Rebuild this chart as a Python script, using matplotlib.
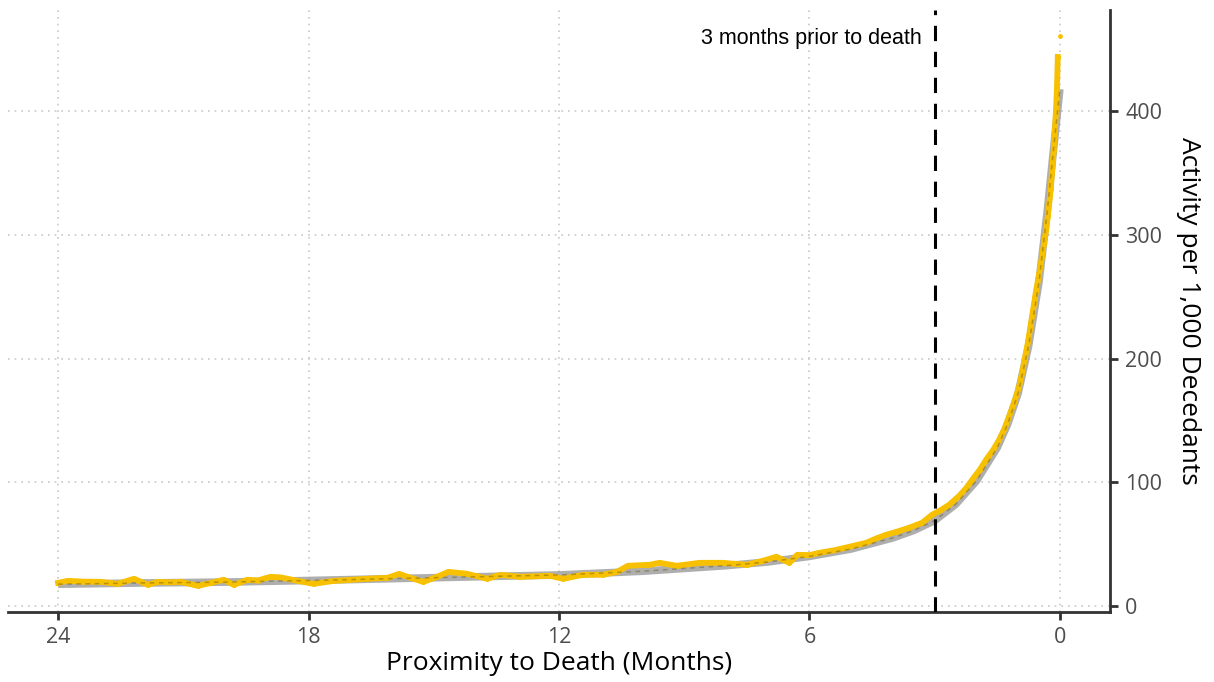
import matplotlib

matplotlib.use("Agg")
import matplotlib.pyplot as plt

# ── Data (months before death, activity per 1,000) ──
months = [
    24.0, 23.77, 23.4, 22.97, 22.57, 22.18, 21.85, 21.61, 21.3, 21.06,
    20.65, 20.34, 20.03, 19.79, 19.46, 19.22, 18.91, 18.67, 18.26, 17.88,
    17.4, 17.0, 16.6, 16.1, 15.83, 15.56, 15.25, 14.92, 14.65, 14.2,
    13.72, 13.41, 12.93, 12.22, 11.9, 11.43, 10.95, 10.61, 10.35, 9.83,
    9.59, 9.18, 8.63, 8.08, 7.5, 7.12, 6.79, 6.48, 6.29, 6.0,
    5.76, 5.4, 5.04, 4.64, 4.4, 4.16, 3.9, 3.61, 3.3, 3.06,
    2.85, 2.65, 2.41, 2.25, 2.1, 1.92, 1.77, 1.6, 1.46, 1.33,
    1.22, 1.1, 0.98, 0.9, 0.84, 0.76, 0.69, 0.62, 0.57, 0.5,
    0.43, 0.38, 0.33, 0.29, 0.25, 0.22, 0.19, 0.15, 0.12, 0.09,
    0.07, 0.05,
]
activity = [
    18.6, 20.2, 19.6, 19.4, 17.8, 21.9, 17.0, 19.4, 19.0, 19.4,
    16.2, 18.6, 21.1, 17.0, 21.1, 20.5, 23.5, 23.0, 20.2, 17.8,
    20.2, 21.0, 21.9, 22.7, 25.9, 22.7, 19.4, 23.5, 27.5, 25.9,
    21.9, 25.1, 23.5, 24.3, 21.9, 25.1, 25.1, 27.5, 32.4, 33.2,
    34.8, 32.4, 34.8, 34.8, 33.2, 36.4, 39.7, 34.8, 41.3, 41.0,
    42.9, 45.0, 47.8, 51.0, 54.5, 57.5, 60.0, 63.2, 67.2, 73.7,
    77.5, 81.8, 89.0, 95.0, 102.0, 110.0, 118.0, 126.0, 134.0, 143.0,
    153.0, 164.0, 177.0, 189.0, 200.0, 214.0, 229.0, 244.0, 255.0, 268.0,
    282.0, 293.0, 304.0, 315.0, 327.0, 337.0, 350.0, 368.0, 385.0, 403.0,
    418.0, 444.0,
]
last_month = [0.0]
last_activity = [461.0]

# smoothed trend (grey band)
smooth_months = [24, 22, 20, 18, 16, 14, 12, 10, 8, 7, 6, 5, 4, 3.5, 3,
                 2.5, 2, 1.5, 1.25, 1, 0.75, 0.5, 0.3, 0.15, 0.0]
smooth_activity = [17.5, 18.5, 19.2, 20.5, 22, 23.5, 25, 28, 32.5, 35.5, 40, 46,
                   55, 61, 69, 82, 101, 128, 147, 172, 210, 262, 320, 370, 418]

x_ticks = [24, 18, 12, 6, 0]
y_ticks = [0, 100, 200, 300, 400]
cutoff = 3

GOLD = "#F7C000"

fig = plt.figure(figsize=(12.14, 6.82), dpi=100)
ax = fig.add_axes([0.0066, 0.1026, 0.9077, 0.8827])

ax.plot(smooth_months, smooth_activity, color="#9a9a9a", lw=5.5, alpha=0.8,
        solid_capstyle="butt", zorder=2)
ax.plot(months, activity, color=GOLD, lw=4.2, zorder=3,
        marker="o", markersize=3.5, markeredgewidth=0)
ax.plot(smooth_months, smooth_activity, color="#6b5a10", lw=1.1, alpha=0.45,
        ls=(0, (3, 3)), zorder=4)
ax.plot(last_month, last_activity, "o", color=GOLD, markersize=3.5,
        markeredgewidth=0, zorder=4)

ax.axvline(cutoff, color="black", lw=2.2, ls=(0, (5, 3.5)), zorder=5)
ax.text(cutoff + 0.3, 459, "3 months prior to death", ha="right", va="center",
        fontsize=15.5, family="Liberation Sans", color="black")

ax.set_xlim(25.2, -1.2)
ax.set_ylim(-5, 482)
ax.set_xticks(x_ticks)
ax.set_yticks(y_ticks)

ax.grid(True, color="#c8c8c8", ls=(0, (1, 3)), lw=1.2)
ax.set_axisbelow(True)

ax.yaxis.tick_right()
ax.yaxis.set_label_position("right")
for side in ("left", "top"):
    ax.spines[side].set_visible(False)
for side in ("right", "bottom"):
    ax.spines[side].set_color("#333333")
    ax.spines[side].set_linewidth(2)

ax.tick_params(axis="both", direction="out", length=6, width=2, color="#333333",
               labelsize=15.5, labelcolor="#4d4d4d", pad=5)
for lab in ax.get_xticklabels() + ax.get_yticklabels():
    lab.set_family("Open Sans")

ax.set_xlabel("Proximity to Death (Months)", fontsize=19, family="Open Sans",
              color="black", labelpad=2)
ax.set_ylabel("Activity per 1,000 Decedants", fontsize=19, family="Open Sans",
              color="black", rotation=270, labelpad=28)

fig.savefig("out.png", dpi=100)
